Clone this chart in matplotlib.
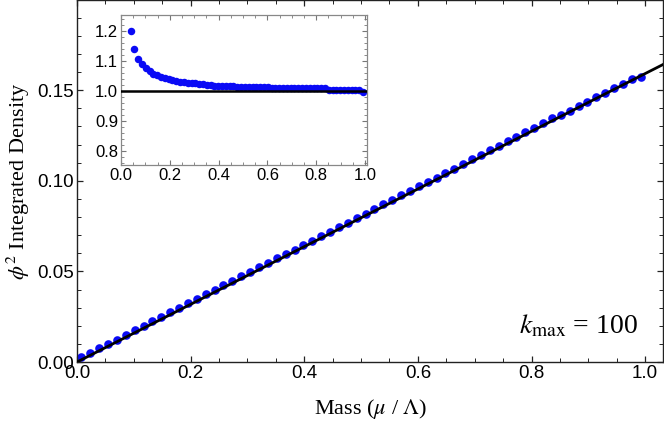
import matplotlib

matplotlib.use("Agg")
import matplotlib.pyplot as plt
from matplotlib.ticker import MultipleLocator

# mass values of the sampled points (mu / Lambda)
MASS = [
    0.0078, 0.0234, 0.0391, 0.0547, 0.0703, 0.0859, 0.1016, 0.1172,
    0.1328, 0.1484, 0.1641, 0.1797, 0.1953, 0.2109, 0.2266, 0.2422,
    0.2578, 0.2734, 0.2891, 0.3047, 0.3203, 0.3359, 0.3516, 0.3672,
    0.3828, 0.3984, 0.4141, 0.4297, 0.4453, 0.4609, 0.4766, 0.4922,
    0.5078, 0.5234, 0.5391, 0.5547, 0.5703, 0.5859, 0.6016, 0.6172,
    0.6328, 0.6484, 0.6641, 0.6797, 0.6953, 0.7109, 0.7266, 0.7422,
    0.7578, 0.7734, 0.7891, 0.8047, 0.8203, 0.8359, 0.8516, 0.8672,
    0.8828, 0.8984, 0.9141, 0.9297, 0.9453, 0.9609, 0.9766, 0.9922,
]
# ratio of lattice density to continuum line
RATIO = [
    2.10, 1.30, 1.201, 1.140, 1.108, 1.090, 1.076, 1.066,
    1.058, 1.052, 1.047, 1.043, 1.040, 1.036, 1.033, 1.031,
    1.029, 1.027, 1.026, 1.025, 1.024, 1.022, 1.021, 1.020,
    1.018, 1.017, 1.016, 1.016, 1.015, 1.015, 1.014, 1.013,
    1.013, 1.013, 1.013, 1.013, 1.013, 1.013, 1.013, 1.010,
    1.010, 1.010, 1.010, 1.010, 1.010, 1.010, 1.010, 1.010,
    1.010, 1.010, 1.010, 1.010, 1.010, 1.010, 1.004, 1.004,
    1.004, 1.004, 1.004, 1.004, 1.004, 1.004, 1.004, 0.996,
]
# continuum reference line endpoints
LINE_X = [0.0, 1.04]
LINE_Y = [0.0, 0.1655]
LINE_SLOPE = 0.15915

MAIN_XTICKS = [0.0, 0.2, 0.4, 0.6, 0.8, 1.0]
MAIN_YTICKS = [0.0, 0.05, 0.10, 0.15]
INSET_XTICKS = [0.0, 0.2, 0.4, 0.6, 0.8, 1.0]
INSET_YTICKS = [0.8, 0.9, 1.0, 1.1, 1.2]

DENSITY = [r * m * LINE_SLOPE for r, m in zip(RATIO, MASS)]

BLUE = "#0a0af5"
SANS = "Liberation Sans"
SERIF = "Liberation Serif"

plt.rcParams.update(
    {
        "font.family": SANS,
        "mathtext.fontset": "stix",
        "xtick.direction": "in",
        "ytick.direction": "in",
    }
)

fig = plt.figure(figsize=(6.64, 4.23), dpi=100)
ax = fig.add_axes([0.116, 0.1442, 0.883, 0.8548])

ax.plot(MASS, DENSITY, "o", color=BLUE, markersize=6.2, markeredgewidth=0, zorder=2, clip_on=False)
ax.plot(LINE_X, LINE_Y, color="black", linewidth=2.0, zorder=3)

ax.set_xlim(0, 1.032)
ax.set_ylim(0, 0.1995)
ax.set_xticks(MAIN_XTICKS)
ax.set_xticklabels([f"{v:.1f}" for v in MAIN_XTICKS])
ax.xaxis.set_minor_locator(MultipleLocator(0.05))
ax.set_yticks(MAIN_YTICKS)
ax.set_yticklabels([f"{v:.2f}" for v in MAIN_YTICKS])
ax.yaxis.set_minor_locator(MultipleLocator(0.01))
ax.tick_params(which="both", top=True, right=True, labelsize=13.5, color="#222222", pad=2)
ax.tick_params(which="major", length=4.5, width=0.9)
ax.tick_params(which="minor", length=2.6, width=0.7)
for sp in ax.spines.values():
    sp.set_color("#222222")
    sp.set_linewidth(1.0)

ax.set_xlabel(r"Mass ($\mu$ / $\Lambda$)", fontfamily=SERIF, fontsize=16, labelpad=11)
ax.set_ylabel(r"$\phi^2$ Integrated Density", fontfamily=SERIF, fontsize=16, labelpad=4)

ax.text(0.956, 0.08, r"$k_{\rm max}$ = 100", transform=ax.transAxes, ha="right", va="baseline",
        fontfamily=SERIF, fontsize=20)

# inset: ratio to continuum line
ins = fig.add_axes([0.1822, 0.6099, 0.3705, 0.3546])
ins.plot(MASS, RATIO, "o", color=BLUE, markersize=5.4, markeredgewidth=0, zorder=2)
ins.axhline(1.0, color="black", linewidth=1.8, zorder=3)
ins.set_xlim(0, 1.008)
ins.set_ylim(0.753, 1.253)
ins.set_xticks(INSET_XTICKS)
ins.set_xticklabels([f"{v:.1f}" for v in INSET_XTICKS])
ins.xaxis.set_minor_locator(MultipleLocator(0.05))
ins.set_yticks(INSET_YTICKS)
ins.set_yticklabels([f"{v:.1f}" for v in INSET_YTICKS])
ins.yaxis.set_minor_locator(MultipleLocator(0.02))
ins.tick_params(which="both", top=True, right=True, labelsize=12, color="#777777", pad=2)
ins.tick_params(which="major", length=3.5, width=0.8)
ins.tick_params(which="minor", length=2.0, width=0.6)
for sp in ins.spines.values():
    sp.set_color("#888888")
    sp.set_linewidth(0.9)

fig.savefig("out.png", dpi=100)
